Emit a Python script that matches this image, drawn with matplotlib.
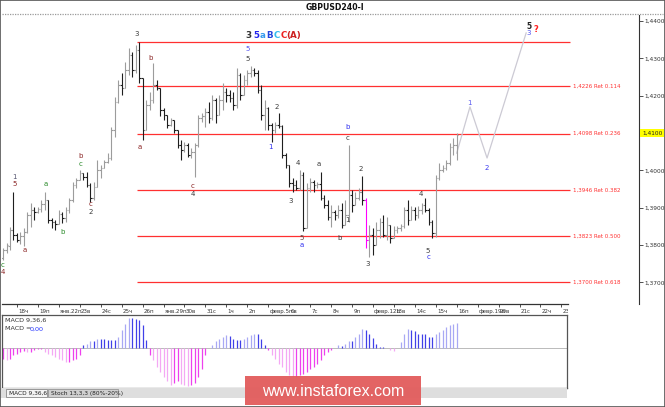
import matplotlib
matplotlib.use("Agg")
import matplotlib.pyplot as plt
import matplotlib.transforms as mtransforms
from matplotlib.patches import Rectangle
from matplotlib.lines import Line2D
import numpy as np

W, H = 665, 407
STEP = 3.49  # pixels per H4 bar

# GBPUSD H4 bars, 17 Jan - 15 Feb
opens = [1.3765, 1.3786, 1.3797, 1.3840, 1.3826, 1.3813, 1.3824, 1.3835, 1.3880, 1.3893,
         1.3888, 1.3896, 1.3910, 1.3920, 1.3867, 1.3861, 1.3856, 1.3883, 1.3872, 1.3893,
         1.3920, 1.3960, 1.3974, 1.3993, 1.3982, 1.3960, 1.3926, 1.3955, 1.4001, 1.4006,
         1.4022, 1.4033, 1.4108, 1.4183, 1.4228, 1.4220, 1.4269, 1.4309, 1.4269, 1.4322,
         1.4247, 1.4108, 1.4175, 1.4188, 1.4228, 1.4220, 1.4161, 1.4148, 1.4121, 1.4135,
         1.4108, 1.4068, 1.4054, 1.4068, 1.4041, 1.4049, 1.4068, 1.4140, 1.4145, 1.4156,
         1.4140, 1.4188, 1.4148, 1.4188, 1.4210, 1.4202, 1.4194, 1.4175, 1.4255, 1.4202,
         1.4242, 1.4261, 1.4269, 1.4261, 1.4215, 1.4148, 1.4167, 1.4121, 1.4108, 1.4121,
         1.4119, 1.4041, 1.4014, 1.3966, 1.3960, 1.3952, 1.3987, 1.3845, 1.3952, 1.3969,
         1.3960, 1.3963, 1.3926, 1.3907, 1.3875, 1.3888, 1.3880, 1.3893, 1.3853, 1.3880,
         1.3934, 1.3907, 1.3926, 1.3942, 1.3920, 1.3813, 1.3826, 1.3800, 1.3840, 1.3861,
         1.3826, 1.3853, 1.3818, 1.3840, 1.3845, 1.3851, 1.3893, 1.3867, 1.3893, 1.3880,
         1.3893, 1.3907, 1.3893, 1.3861, 1.3832, 1.3979, 1.4001, 1.4006, 1.4019, 1.4062,
         1.4068]
highs = [1.3792, 1.3805, 1.3848, 1.3942, 1.3832, 1.3835, 1.3845, 1.3888, 1.3912, 1.3902,
         1.3902, 1.3920, 1.3942, 1.3920, 1.3872, 1.3867, 1.3893, 1.3888, 1.3902, 1.3926,
         1.3969, 1.3979, 1.4001, 1.3993, 1.3995, 1.3966, 1.3969, 1.4027, 1.4014, 1.4027,
         1.4046, 1.4116, 1.4196, 1.4242, 1.4261, 1.4290, 1.4328, 1.4317, 1.4336, 1.4344,
         1.4247, 1.4188, 1.4210, 1.4287, 1.4242, 1.4220, 1.4167, 1.4148, 1.4140, 1.4135,
         1.4108, 1.4081, 1.4076, 1.4073, 1.4060, 1.4073, 1.4148, 1.4153, 1.4167, 1.4183,
         1.4202, 1.4194, 1.4202, 1.4234, 1.4220, 1.4215, 1.4210, 1.4274, 1.4261, 1.4255,
         1.4269, 1.4279, 1.4274, 1.4269, 1.4228, 1.4188, 1.4170, 1.4127, 1.4129, 1.4153,
         1.4121, 1.4046, 1.4014, 1.3979, 1.3974, 1.4001, 1.3995, 1.3966, 1.3979, 1.3974,
         1.3969, 1.3995, 1.3934, 1.3920, 1.3907, 1.3893, 1.3907, 1.3912, 1.3920, 1.4068,
         1.3947, 1.3942, 1.3952, 1.3985, 1.3926, 1.3853, 1.3845, 1.3861, 1.3872, 1.3880,
         1.3875, 1.3853, 1.3851, 1.3851, 1.3856, 1.3902, 1.3920, 1.3904, 1.3902, 1.3904,
         1.3912, 1.3926, 1.3899, 1.3867, 1.3987, 1.4019, 1.4014, 1.4027, 1.4073, 1.4086,
         1.4100]
lows = [1.3759, 1.3778, 1.3786, 1.3813, 1.3808, 1.3802, 1.3797, 1.3832, 1.3848, 1.3867,
        1.3885, 1.3888, 1.3893, 1.3859, 1.3845, 1.3840, 1.3856, 1.3859, 1.3861, 1.3885,
        1.3915, 1.3952, 1.3974, 1.3974, 1.3955, 1.3915, 1.3920, 1.3955, 1.3979, 1.4006,
        1.4019, 1.4027, 1.4089, 1.4180, 1.4202, 1.4220, 1.4255, 1.4250, 1.4261, 1.4234,
        1.4081, 1.4108, 1.4161, 1.4180, 1.4215, 1.4145, 1.4135, 1.4113, 1.4119, 1.4100,
        1.4060, 1.4027, 1.4049, 1.4036, 1.4033, 1.3982, 1.4062, 1.4129, 1.4116, 1.4127,
        1.4135, 1.4127, 1.4148, 1.4161, 1.4183, 1.4183, 1.4161, 1.4167, 1.4188, 1.4202,
        1.4228, 1.4250, 1.4253, 1.4207, 1.4135, 1.4108, 1.4108, 1.4076, 1.4100, 1.4113,
        1.4033, 1.4006, 1.3955, 1.3942, 1.3947, 1.3947, 1.3837, 1.3845, 1.3942, 1.3942,
        1.3952, 1.3920, 1.3899, 1.3867, 1.3848, 1.3867, 1.3872, 1.3845, 1.3853, 1.3861,
        1.3888, 1.3907, 1.3920, 1.3907, 1.3792, 1.3768, 1.3773, 1.3800, 1.3818, 1.3821,
        1.3813, 1.3805, 1.3818, 1.3832, 1.3837, 1.3845, 1.3853, 1.3867, 1.3867, 1.3872,
        1.3883, 1.3888, 1.3853, 1.3818, 1.3821, 1.3974, 1.3995, 1.4001, 1.4014, 1.4041,
        1.4027]
closes = [1.3786, 1.3800, 1.3840, 1.3826, 1.3813, 1.3824, 1.3835, 1.3880, 1.3893, 1.3888,
          1.3896, 1.3910, 1.3920, 1.3867, 1.3861, 1.3856, 1.3883, 1.3872, 1.3893, 1.3920,
          1.3960, 1.3974, 1.3993, 1.3982, 1.3960, 1.3926, 1.3955, 1.4001, 1.4006, 1.4022,
          1.4033, 1.4108, 1.4183, 1.4228, 1.4220, 1.4269, 1.4309, 1.4269, 1.4322, 1.4247,
          1.4108, 1.4175, 1.4188, 1.4228, 1.4220, 1.4161, 1.4148, 1.4121, 1.4135, 1.4108,
          1.4068, 1.4054, 1.4068, 1.4041, 1.4049, 1.4068, 1.4140, 1.4145, 1.4156, 1.4140,
          1.4188, 1.4148, 1.4188, 1.4210, 1.4202, 1.4194, 1.4175, 1.4255, 1.4202, 1.4242,
          1.4261, 1.4269, 1.4261, 1.4215, 1.4148, 1.4167, 1.4121, 1.4108, 1.4121, 1.4119,
          1.4041, 1.4014, 1.3966, 1.3960, 1.3952, 1.3987, 1.3845, 1.3952, 1.3969, 1.3960,
          1.3963, 1.3926, 1.3907, 1.3875, 1.3888, 1.3880, 1.3893, 1.3853, 1.3880, 1.3934,
          1.3907, 1.3926, 1.3942, 1.3920, 1.3813, 1.3826, 1.3800, 1.3840, 1.3861, 1.3826,
          1.3853, 1.3818, 1.3840, 1.3845, 1.3851, 1.3893, 1.3867, 1.3893, 1.3880, 1.3893,
          1.3907, 1.3893, 1.3861, 1.3832, 1.3979, 1.4001, 1.4006, 1.4019, 1.4062, 1.4068,
          1.4094]
marked_bar = 104
current_price = "1,4100"

# MACD 9,36,6 histogram (x 0.0001)
macd = [-10.7, -12.3, -10.7, -7.3, -5.7, -4, -3.3, -4, -4, -1.7, -0.7, -0.7, -4, -5.7,
        -7.3, -9, -10.7, -12.3, -14, -14, -12.3, -10.7, -7.3,
        2.7, 4.3, 6.7, 6.7, 9.3, 9.3, 9.3, 7.7, 7.7, 7.7, 11, 17.7, 24.3, 30.3, 30.3,
        29.3, 27.7, 22.7, 7.7,
        -7.3, -12.3, -19, -24, -29, -33.3, -37.3, -34.7, -33.3, -35.7, -37.3, -38, -37.3,
        -34.7, -29, -20.7, -7.3,
        0.3, 2.7, 6.7, 9.3, 11, 13.3, 12, 9.3, 7.7, 7.7, 9.3, 11, 13.3, 14.3, 14.3, 9.3, 3.3,
        -2.3, -7.3, -10.7, -15.7, -19, -24, -27.3, -29, -29, -27.3, -25.7, -24, -20.7, -19,
        -15.7, -12.3, -7.3, -4, -1.7,
        -0.3,
        2.7, 1.7, 4, 7.3, 6.7, 10.7, 14, 19.3, 18.3, 14, 10, 4, 0.7, 0.7, 0, -1.7, -3.3, 0,
        6, 14, 19.3, 18.3, 16.7, 14, 14, 14, 11, 11, 14, 16, 18.3, 21, 23.3, 23.7, 25]

day_labels = ["18ч", "19п", "янв.22п", "23в", "24с", "25ч", "26п", "янв.29п", "30в", "31с",
              "1ч", "2п", "февр.5п", "6в", "7с", "8ч", "9п", "февр.12п", "13в", "14с",
              "15ч", "16п", "февр.19п", "20в", "21с", "22ч", "23п"]
first_day_bar = 4
bars_per_day = 6

fib_levels = [1.4344, 1.4226, 1.4098, 1.3946, 1.3823, 1.3700]
fib_texts = ["", "1,4226 Ret 0.114", "1,4098 Ret 0.236", "1,3946 Ret 0.382",
             "1,3823 Ret 0.500", "1,3700 Ret 0.618"]
fib_from, fib_to = 38.4, 162.5

forecast_x = [130, 133.8, 138.7, 149.9]
forecast_y = [1.4046, 1.4170, 1.4033, 1.4368]

RED, GRN, BLU, DRK = "#8b2525", "#2a8a2a", "#3030f0", "#3a3a3a"
wave_labels = [
    (0, 1.3746, "c", GRN), (0, 1.3728, "4", RED),
    (3.2, 1.3982, "1", "#555570"), (3.2, 1.3963, "5", RED),
    (6.3, 1.3786, "a", RED), (12.3, 1.3963, "a", GRN), (17.2, 1.3835, "b", GRN),
    (22.1, 1.4038, "b", RED), (22.1, 1.4017, "c", GRN),
    (25.2, 1.3910, "c", RED), (25.2, 1.3888, "2", DRK),
    (38.4, 1.4365, "3", DRK), (42.4, 1.4301, "b", RED), (39.3, 1.4062, "a", RED),
    (54.4, 1.3958, "c", RED), (54.4, 1.3937, "4", DRK),
    (70.2, 1.4325, "5", "#5050f0"), (70.2, 1.4298, "5", DRK),
    (78.5, 1.4170, "2", DRK), (76.5, 1.4062, "1", BLU),
    (84.5, 1.4019, "4", DRK), (82.5, 1.3918, "3", DRK), (90.5, 1.4017, "a", DRK),
    (85.7, 1.3818, "5", "#5a3a3a"), (85.7, 1.3800, "a", BLU),
    (98.6, 1.4116, "b", BLU), (98.6, 1.4086, "c", DRK), (102.6, 1.4003, "2", DRK),
    (98.6, 1.3867, "1", DRK), (96.3, 1.3818, "b", DRK), (104.6, 1.3749, "3", DRK),
    (119.8, 1.3937, "4", DRK), (121.8, 1.3784, "5", DRK), (121.8, 1.3768, "c", BLU),
    (133.8, 1.4180, "1", "#5a5af0"), (138.7, 1.4006, "2", "#3a3af0"),
    (150.7, 1.4367, "3", "#5050f0"),
]
top_row = [(70.2, "3", "#333333"), (72.5, "5", "#2222ee"), (74.5, "a", "#3399ee"),
           (76.5, "B", "#2244dd"), (78.5, "C", "#33bbee"), (80.5, "C", "#ee2222"),
           (83.4, "(A)", "#cc2222")]
top_row_price = 1.4360

fig = plt.figure(figsize=(W / 100, H / 100), dpi=100)
fig.patch.set_facecolor("white")

# main price panel
ax = fig.add_axes([2 / W, 1 - 304 / H, 637 / W, 289 / H])
ax.set_xlim(-0.29, (639 - 3) / STEP)
ax.set_ylim(1.3642, 1.4416)
for s in ["top", "bottom", "left"]:
    ax.spines[s].set_visible(False)
ax.spines["right"].set_color("#333333")
ax.spines["right"].set_linewidth(0.8)

ax.hlines(fib_levels, fib_from, fib_to, color="#ff3030", lw=0.9)
for lv, t in zip(fib_levels, fib_texts):
    if t:
        ax.text(fib_to + 0.8, lv, t, color="#ff3030", fontsize=4, va="center", ha="left")

ax.plot(forecast_x, forecast_y, color="#cccad4", lw=0.9)

idx = np.arange(len(closes))
o, c = np.array(opens), np.array(closes)
cols = np.where(c >= o, "#9c9c9c", "#1e1e1e").astype(object)
cols[marked_bar] = "#ff00ff"
ax.vlines(idx, lows, highs, colors=cols, lw=0.8)
ax.hlines(opens, idx - 0.45, idx, colors=cols, lw=0.8)
ax.hlines(closes, idx, idx + 0.45, colors=cols, lw=0.8)

for x, y, t, col in wave_labels:
    ax.text(x, y, t, color=col, fontsize=5, ha="center", va="center")
for x, t, col in top_row:
    ax.text(x, top_row_price, t, color=col, fontsize=6.3, fontweight="bold",
            ha="center", va="center")
ax.text(150.7, 1.4386, "5", color="#222222", fontsize=5.5, fontweight="bold",
        ha="center", va="center")
ax.text(152.8, 1.4377, "?", color="#ff2020", fontsize=6, fontweight="bold",
        ha="center", va="center")

# right price scale
yt = [1.37, 1.38, 1.39, 1.40, 1.41, 1.42, 1.43, 1.44]
ytl = [f"{v:.4f}".replace(".", ",") for v in yt]
ax.yaxis.tick_right()
ax.set_yticks(yt)
ax.set_yticklabels(["" if t == current_price else t for t in ytl])
ax.tick_params(axis="y", direction="out", length=3, width=0.6, pad=1.2,
               labelsize=4.2, colors="#333333")
ax.text(1 + 3.2 / 637, 1.4100, current_price, transform=ax.get_yaxis_transform(),
        fontsize=4.2, va="center", ha="left", color="#222222",
        bbox=dict(boxstyle="square,pad=0.3", fc="#ffff00", ec="none"))

# time scale
ticks = [first_day_bar + bars_per_day * k for k in range(len(day_labels))]
ax.set_xticks(ticks)
ax.set_xticklabels(day_labels)
ax.tick_params(axis="x", direction="out", length=2.5, width=0.6, pad=1,
               labelsize=4.0, colors="#333333")
xend = (568 - 3) / STEP
ax.plot([-0.29, xend], [1.3642, 1.3642], color="#333333", lw=0.9, clip_on=False)
shift = mtransforms.ScaledTranslation(1.2 / 100, 0, fig.dpi_scale_trans)
clip = mtransforms.TransformedBbox(mtransforms.Bbox([[0, 0], [568 / W, 1]]), fig.transFigure)
for lbl in ax.get_xticklabels():
    lbl.set_ha("left")
    lbl.set_transform(lbl.get_transform() + shift)
    lbl.set_clip_box(clip)
    lbl.set_clip_on(True)

# MACD panel
mx = fig.add_axes([2 / W, 1 - 388 / H, 565 / W, 73 / H])
mx.set_xlim(-0.29, (567 - 3) / STEP)
mx.set_ylim(-40, 33)
mx.set_xticks([])
mx.set_yticks([])
for s in mx.spines.values():
    s.set_color("#555555")
    s.set_linewidth(0.9)
mx.axhline(0, color="#b0b0b0", lw=0.6)
hist = np.array(macd)
mcols = []
for i, v in enumerate(hist):
    growing = i > 0 and abs(v) > abs(hist[i - 1])
    if v >= 0:
        mcols.append("#a8a8f4" if growing else "#4040e8")
    else:
        mcols.append("#f4a8f4" if growing else "#ee40ee")
mx.vlines(np.arange(len(hist)), 0, hist, colors=mcols, lw=0.9)
mx.text(3 / 565, 1 - 5 / 73, "MACD 9,36,6", transform=mx.transAxes, fontsize=4.6,
        color="#333333", va="center", ha="left")
mx.text(3 / 565, 1 - 14 / 73, "MACD =", transform=mx.transAxes, fontsize=4.6,
        color="#333333", va="center", ha="left")
mx.text(28 / 565, 1 - 14 / 73, "0,00", transform=mx.transAxes, fontsize=4.6,
        color="#2030ff", va="center", ha="left")

# title and frame
fig.text(335 / W, 1 - 7 / H, "GBPUSD240-I", fontsize=5.6, fontweight="bold",
         ha="center", va="center", color="#111111")
fig.add_artist(Line2D([2 / W, 663 / W], [1 - 14 / H] * 2, color="#9a9a9a", lw=0.9,
                      ls=(0, (1, 1))))
fig.add_artist(Rectangle((0, 1 - 398 / H), 567 / W, 10 / H, transform=fig.transFigure,
                         fc="#dedede", ec="none"))
fig.add_artist(Rectangle((6 / W, 1 - 397 / H), 41 / W, 8 / H, transform=fig.transFigure,
                         fc="#f4f4f4", ec="#777777", lw=0.5))
fig.add_artist(Rectangle((48 / W, 1 - 397 / H), 70 / W, 8 / H, transform=fig.transFigure,
                         fc="#d0d0d0", ec="#888888", lw=0.5))
fig.text(9 / W, 1 - 393 / H, "MACD 9,36,6", fontsize=4.2, va="center", color="#222222")
fig.text(51 / W, 1 - 393 / H, "Stoch 13,3,3 (80%-20%)", fontsize=4.2, va="center",
         color="#222222")
fig.add_artist(Rectangle((245 / W, 1 - 405 / H), 176 / W, 29 / H, transform=fig.transFigure,
                         fc="#e25c5c", ec="none", alpha=0.95))
fig.text(333 / W, 1 - 391 / H, "www.instaforex.com", fontsize=11.5, color="white",
         ha="center", va="center", family=["Liberation Sans", "DejaVu Sans"])
fig.add_artist(Rectangle((0, 0), 1, 1, transform=fig.transFigure, fill=False,
                         ec="#555555", lw=1.2))

fig.savefig("out.png", dpi=100)
